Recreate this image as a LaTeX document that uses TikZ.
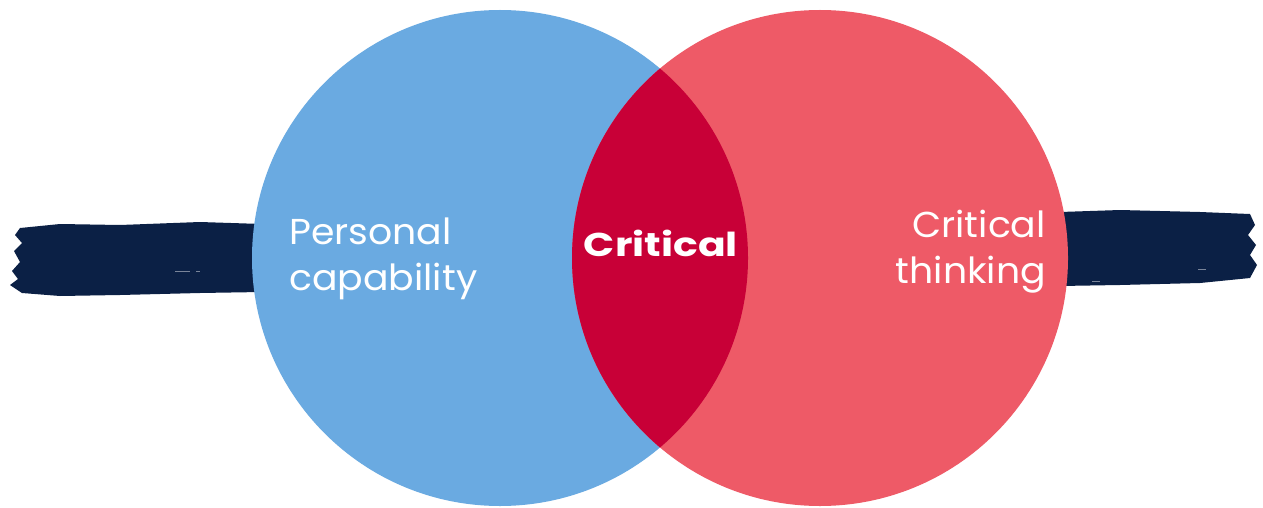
\documentclass[tikz,border=0pt]{standalone}
\usepackage{fontspec}
\setmainfont{Poppins}
\newfontfamily\widefont[FakeStretch=1.05]{Poppins}
\newfontfamily\widebold[FakeStretch=1.24]{Poppins Bold}
\definecolor{cblue}{HTML}{6AAAE1}
\definecolor{cred}{HTML}{EE5A67}
\definecolor{clens}{HTML}{C80037}
\definecolor{cnavy}{HTML}{0B2045}
\begin{document}
\begin{tikzpicture}[x=1pt,y=-1pt,
  lbl/.style={text=white,inner sep=0pt,font=\widefont\fontsize{36}{40}\selectfont},
  lblb/.style={text=white,inner sep=0pt,font=\widebold\fontsize{33}{38}\selectfont},
  speck/.style={fill=cnavy!55!white}]
\useasboundingbox (0,0) rectangle (1263,508);
\fill[white] (0,0) rectangle (1263,508);
% brush strokes
\fill[cnavy] (20,228) -- (60,224) -- (120,225) -- (200,222) -- (262,224) -- (262,292) -- (200,293) -- (120,295) -- (60,296) -- (22,293) -- (10,285) -- (18,279) -- (12,271) -- (20,262) -- (14,251) -- (22,243) -- (15,235) -- cycle;
\fill[cnavy] (1060,212) -- (1120,210) -- (1200,212) -- (1250,214) -- (1255,225) -- (1248,235) -- (1256,245) -- (1250,255) -- (1257,265) -- (1250,278) -- (1200,283) -- (1120,285) -- (1060,286) -- cycle;
\fill[speck] (175,271) rectangle (190,272);
\fill[speck] (196,270.5) rectangle (200,271.5);
\fill[speck] (1198,269) rectangle (1206,270);
\fill[speck] (1092,281) rectangle (1100,282);
% circles
\coordinate (cb) at (500,258);
\coordinate (cr) at (820,258);
\fill[cblue] (cb) circle[radius=248];
\fill[cred] (cr) circle[radius=248];
\begin{scope}
  \clip (cb) circle[radius=248];
  \fill[clens] (cr) circle[radius=248];
\end{scope}
% labels
\node[lbl,anchor=base west] (p1) at (289,244) {Personal};
\node[lbl,anchor=base west] (p2) at (289,290) {capability};
\node[lblb,anchor=base] (c) at (661,256) {Critical};
\node[lbl,anchor=base east] (t1) at (1046,237) {Critical};
\node[lbl,anchor=base east] (t2) at (1046,283) {thinking};
\end{tikzpicture}
\end{document}
